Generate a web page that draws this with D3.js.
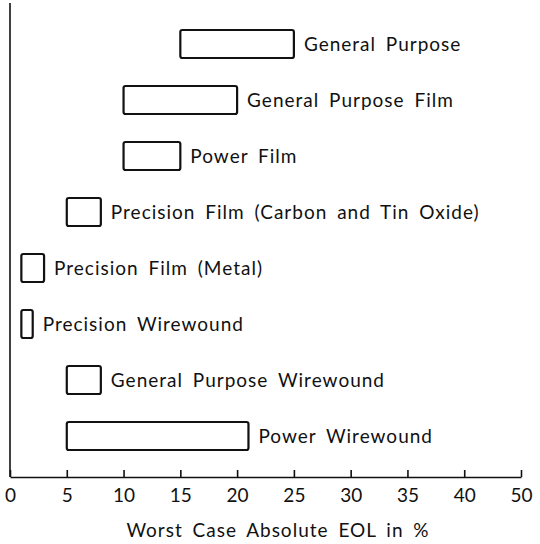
<!DOCTYPE html>
<html><head><meta charset="utf-8">
<script src="https://cdn.jsdelivr.net/npm/d3@7"></script>
<style>
html,body{margin:0;padding:0;background:#fff;}
text{font-family:Lato, "Open Sans", sans-serif;fill:#111;}
</style></head>
<body><svg id="c" width="540" height="544"></svg>
<script>
const categories = ["General Purpose","General Purpose Film","Power Film","Precision Film (Carbon and Tin Oxide)","Precision Film (Metal)","Precision Wirewound","General Purpose Wirewound","Power Wirewound"];
const lowValues = [15,10,10,5,1,1,5,5];
const highValues = [25,20,15,8,3,2,8,21];
const tickValues = [0,5,10,15,20,25,30,35,40,45];
const tickLabels = ["0","5","10","15","20","25","30","35","40","50"];
const axisTitle = "Worst Case Absolute EOL in %";

const svg = d3.select("#c");
const x = d3.scaleLinear().domain([0,45]).range([10,521]);
const y = d3.scaleBand().domain(categories).range([16,464]).paddingInner(0.5).paddingOuter(0.25);
const axisY = 477;

// left axis line
svg.append("line").attr("x1",10).attr("x2",10).attr("y1",3).attr("y2",axisY)
  .attr("stroke","#111").attr("stroke-width",1.6);

// bottom axis
const ax = svg.append("g").attr("transform",`translate(0,${axisY})`)
  .call(d3.axisBottom(x).tickValues(tickValues).tickSize(-7).tickSizeOuter(0)
    .tickFormat((d,i)=>tickLabels[i]));
ax.select(".domain").attr("stroke","#111").attr("stroke-width",1.6);
ax.selectAll(".tick line").attr("stroke","#111").attr("stroke-width",1.6);
ax.selectAll(".tick text").attr("y",25).attr("dy",0).attr("font-size",19).attr("fill","#111")
  .style("font-family","Lato, sans-serif");

const data = categories.map((c,i)=>({c, lo:lowValues[i], hi:highValues[i]}));

svg.selectAll("rect.bar").data(data).join("rect").attr("class","bar")
  .attr("x",d=>x(d.lo)).attr("width",d=>x(d.hi)-x(d.lo))
  .attr("y",d=>y(d.c)).attr("height",y.bandwidth())
  .attr("rx",2).attr("fill","none").attr("stroke","#111").attr("stroke-width",2.2);

svg.selectAll("text.lab").data(data).join("text").attr("class","lab")
  .attr("x",d=>x(d.hi)+10).attr("y",d=>y(d.c)+y.bandwidth()/2)
  .attr("dy","0.36em").attr("font-size",19).attr("letter-spacing","1px").attr("word-spacing","4px")
  .text(d=>d.c);

svg.append("text").attr("x",278).attr("y",537).attr("text-anchor","middle")
  .attr("font-size",19).attr("letter-spacing","1px").attr("word-spacing","4px").text(axisTitle);
</script></body></html>
